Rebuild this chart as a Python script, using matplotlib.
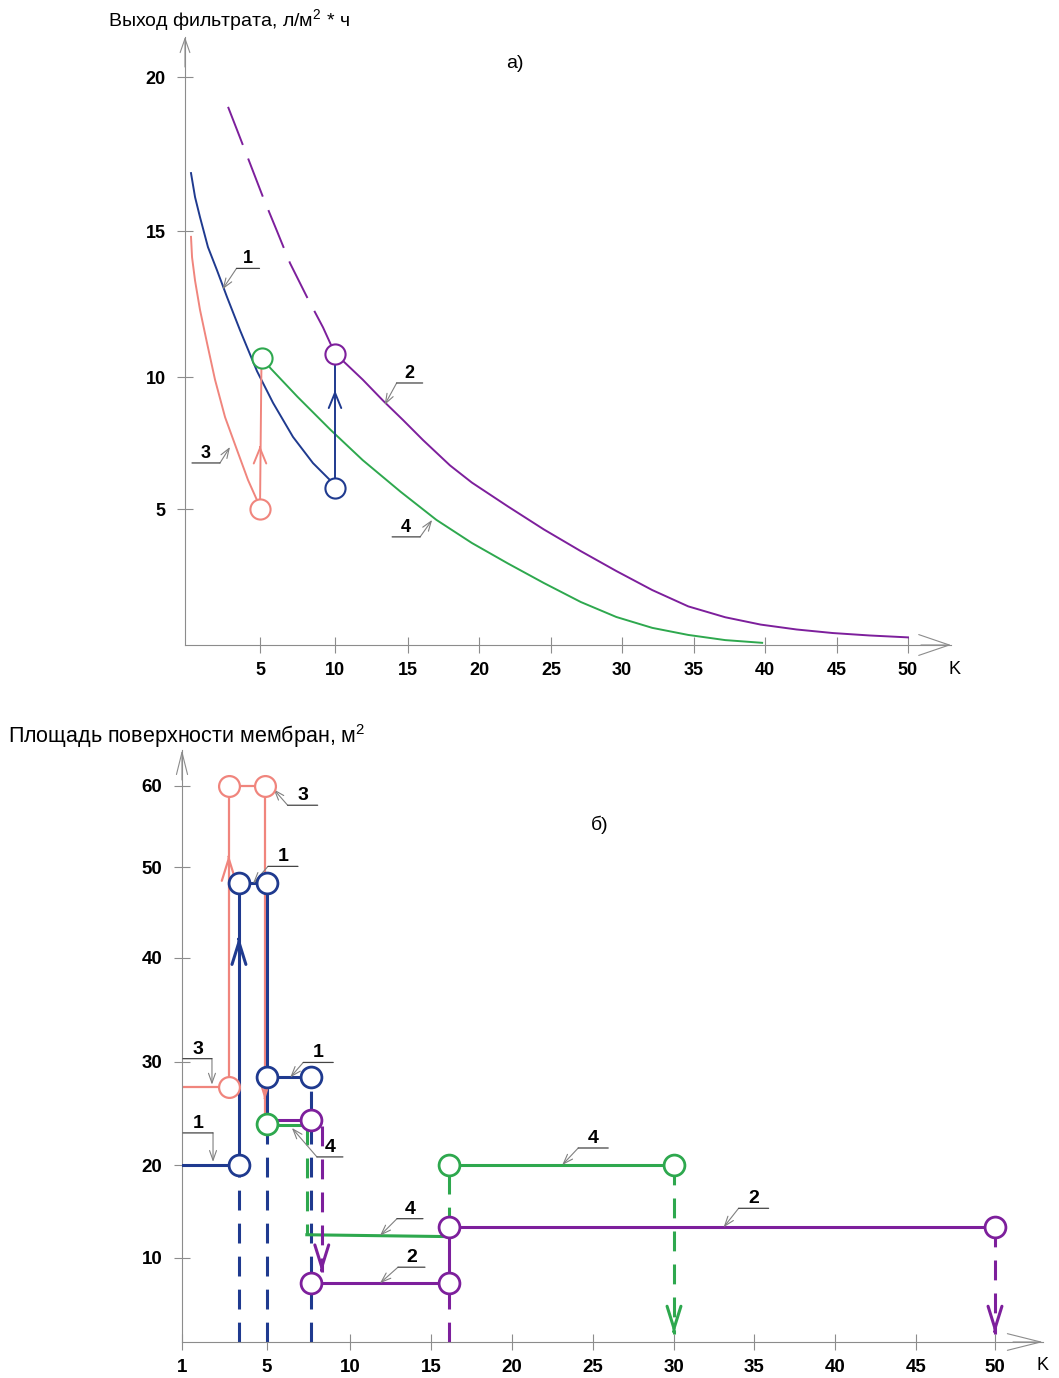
import numpy as np
import matplotlib
matplotlib.use('Agg')
import matplotlib.pyplot as plt
from matplotlib.transforms import offset_copy

plt.rcParams['font.family'] = ['Liberation Sans', 'DejaVu Sans']
plt.rcParams['mathtext.fontset'] = 'custom'
plt.rcParams['mathtext.rm'] = 'Liberation Sans'

W, H, DPI = 1059, 1378, 100

PINK = '#f0857d'
BLUE = '#1f3a8f'
PURPLE = '#7d1f9c'
GREEN = '#2ea84e'
AXIS = '#8c8c8c'
LEAD = '#808080'

# ---------------- panel a): filtrate output vs K ----------------
a_xticks = [5, 10, 15, 20, 25, 30, 35, 40, 45, 50]
a_yticks = [5, 10, 15, 20]

# curve 3 (pink)
k3 = [0.4, 0.47, 0.67, 1.0, 1.47, 2.0, 2.67, 3.47, 4.2, 5.0]
f3 = [14.8, 14.1, 13.3, 12.3, 11.16, 9.9, 8.48, 7.23, 6.1, 5.08]
# curve 1 (blue)
k1 = [0.4, 0.67, 1.0, 1.53, 2.13, 2.8, 3.67, 4.8, 5.87, 7.2, 8.53, 9.87]
f1 = [16.88, 16.1, 15.45, 14.45, 13.66, 12.74, 11.6, 10.2, 9.02, 7.73, 6.74, 5.98]
# curve 2 (purple), dashed part then solid part
k2_dash = [2.87, 3.47, 4.33, 5.2, 6.13, 7.0, 8.13, 9.2, 10.0]
f2_dash = [19.03, 18.28, 17.2, 16.1, 15.0, 13.9, 12.74, 11.7, 10.8]
k2 = [10.0, 10.55, 11.9, 13.3, 14.66, 16.06, 17.96, 19.5, 22.0, 24.5, 27.1, 29.6, 32.1, 34.6,
      37.2, 39.7, 42.2, 44.7, 47.3, 50.0]
f2 = [10.8, 10.55, 9.9, 9.1, 8.37, 7.61, 6.65, 6.0, 5.1, 4.25, 3.45, 2.72, 2.02, 1.42,
      1.02, 0.75, 0.57, 0.44, 0.35, 0.28]
# curve 4 (green)
k4 = [5.1, 5.7, 7.5, 9.7, 11.9, 14.5, 17.0, 19.5, 22.0, 24.5, 27.1, 29.6, 32.1, 34.6, 37.2, 39.8]
f4 = [10.7, 10.3, 9.25, 8.0, 6.85, 5.65, 4.6, 3.75, 3.0, 2.28, 1.58, 1.03, 0.63, 0.37, 0.18, 0.08]
# switching points (circles) and jumps
a_pts = {'pink': (5.0, 5.0), 'blue': (10.0, 5.8), 'purple': (10.0, 10.8), 'green': (5.1, 10.65)}

# ---------------- panel b): membrane area vs K ----------------
b_xticks = [1, 5, 10, 15, 20, 25, 30, 35, 40, 45, 50]
b_yticks = [10, 20, 30, 40, 50, 60]

pink_k = [1, 3.2, 3.2, 4.9, 4.9]
pink_s = [27.6, 27.6, 60, 60, 24.0]
pink_ck = [3.2, 3.2, 4.9]
pink_cs = [27.6, 60, 60]

blue_k = [1, 3.68, 3.68, 5.0, 5.0]
blue_s = [20, 20, 48.2, 48.2, 24.0]
blue_branch_k = [5.0, 7.65]
blue_branch_s = [28.5, 28.5]
blue_ck = [3.68, 3.68, 5.0, 5.0, 7.65]
blue_cs = [20, 48.2, 48.2, 28.5, 28.5]
blue_drop_k = [3.68, 5.0, 7.65]
blue_drop_s = [20, 24.0, 28.5]

purple_segs = [([5.0, 7.65], [24.4, 24.4]),
               ([7.65, 16.1], [7.0, 7.0]),
               ([16.1, 16.1], [7.0, 13.3]),
               ([16.1, 50.0], [13.3, 13.3])]
purple_dash = [([8.3, 8.3], [23.8, 8.3]),
               ([16.1, 16.1], [0.0, 7.0]),
               ([50.0, 50.0], [13.3, 1.0])]
purple_ck = [7.65, 7.65, 16.1, 16.1, 50.0]
purple_cs = [24.4, 7.0, 7.0, 13.3, 13.3]

green_segs = [([5.0, 7.4], [23.9, 23.9]),
              ([7.4, 16.1], [12.5, 12.3]),
              ([16.1, 30.0], [20.0, 20.0])]
green_dash = [([7.4, 7.4], [23.9, 12.5]),
              ([16.1, 16.1], [13.3, 20.0]),
              ([30.0, 30.0], [20.0, 1.0])]
green_ck = [5.0, 16.1, 30.0]
green_cs = [24.0, 20.0, 20.0]

# direction arrows (x, y, +1 up / -1 down, colour)
b_arrows = [(3.2, 51.5, 1, PINK), (4.9, 26.3, -1, PINK), (3.68, 42.3, 1, BLUE),
            (8.3, 8.3, -1, PURPLE), (30.0, 1.0, -1, GREEN), (50.0, 1.0, -1, PURPLE)]


def interp_scale(vals, pos):
    vals = np.asarray(vals, float)
    pos = np.asarray(pos, float)
    return (lambda v: np.interp(v, vals, pos)), (lambda p: np.interp(p, pos, vals))


def setup_axes(fig, box, xgrid, xpos, ygrid, ypos, xticks, yticks, xarrow, yarrow, fs):
    left, top, right, bottom = box
    ax = fig.add_axes([left / W, (H - bottom) / H, (right - left) / W, (bottom - top) / H])
    ax.set_xscale('function', functions=interp_scale(xgrid, xpos))
    ax.set_yscale('function', functions=interp_scale(ygrid, ypos))
    ax.set_xlim(xgrid[0], xgrid[-1])
    ax.set_ylim(ygrid[0], ygrid[-1])
    for s in ['top', 'right']:
        ax.spines[s].set_visible(False)
    for s in ['left', 'bottom']:
        ax.spines[s].set_color(AXIS)
        ax.spines[s].set_linewidth(0.8)
    ax.set_xticks(xticks)
    ax.set_yticks(yticks)
    ax.set_xticklabels([str(t) for t in xticks])
    ax.set_yticklabels([str(t) for t in yticks])
    ax.minorticks_off()
    ax.tick_params(direction='inout', length=12, width=0.8, color=AXIS,
                   labelsize=fs, labelcolor='black')
    ax.tick_params(axis='x', pad=6)
    ax.tick_params(axis='y', pad=8)
    for lab in ax.get_xticklabels() + ax.get_yticklabels():
        lab.set_fontweight('bold')
    # arrow heads at the axis ends
    ax.annotate('', xy=(1, 0), xycoords='axes fraction', xytext=(-30, 0), textcoords='offset pixels',
                arrowprops=dict(arrowstyle='->,head_length=%s,head_width=%s' % xarrow, color=AXIS,
                                lw=0.8, shrinkA=0, shrinkB=0, mutation_scale=10), annotation_clip=False)
    ax.annotate('', xy=(0, 1), xycoords='axes fraction', xytext=(0, -30), textcoords='offset pixels',
                arrowprops=dict(arrowstyle='->,head_length=%s,head_width=%s' % yarrow, color=AXIS,
                                lw=0.8, shrinkA=0, shrinkB=0, mutation_scale=10), annotation_clip=False)
    return ax


def leader(ax, tip, label, dx, dy, w, fs):
    ax.annotate('', xy=tip, xytext=(dx, dy), textcoords='offset pixels',
                arrowprops=dict(arrowstyle='->,head_length=0.7,head_width=0.25', color=LEAD,
                                lw=0.8, shrinkA=0, shrinkB=0, mutation_scale=10))
    tr = offset_copy(ax.transData, fig=ax.figure, x=dx, y=dy, units='dots')
    ax.annotate('', xy=tip, xycoords=tr, xytext=(w, 0), textcoords='offset pixels',
                arrowprops=dict(arrowstyle='-', color='#444444', lw=0.9, shrinkA=0, shrinkB=0))
    ax.annotate(label, xy=tip, xytext=(dx + w / 2, dy + 1), textcoords='offset pixels',
                ha='center', va='bottom', fontsize=fs, fontweight='bold')


def direction_arrow(ax, x, y, d, color, hl, hw, lw):
    ax.annotate('', xy=(x, y), xytext=(0, -2 * d), textcoords='offset pixels',
                arrowprops=dict(arrowstyle='->,head_length=%s,head_width=%s' % (hl, hw), color=color,
                                lw=lw, shrinkA=0, shrinkB=0, mutation_scale=10), zorder=4)


fig = plt.figure(figsize=(W / DPI, H / DPI), dpi=DPI)

# ---------- panel a ----------
ax = setup_axes(fig, (185, 37, 951, 645),
                [0, 5, 10, 15, 20, 25, 30, 35, 40, 45, 50, 53],
                [185, 260, 335, 408, 479, 551, 622, 694, 765, 837, 908, 951],
                [0, 5, 10, 15, 20, 21.3], [0, 136, 268, 414, 568, 608],
                a_xticks, a_yticks, (2.2, 0.75), (1.0, 0.35), 13)

lw_a = 1.4
ax.plot(k3, f3, color=PINK, lw=lw_a)
ax.plot(k1, f1, color=BLUE, lw=lw_a)
ax.plot(k2_dash, f2_dash, color=PURPLE, lw=lw_a, dashes=(21, 7.5))
ax.plot(k2, f2, color=PURPLE, lw=lw_a)
ax.plot(k4, f4, color=GREEN, lw=lw_a)
ax.plot([a_pts['pink'][0], a_pts['green'][0]], [a_pts['pink'][1], a_pts['green'][1]], color=PINK, lw=lw_a)
ax.plot([a_pts['blue'][0], a_pts['purple'][0]], [a_pts['blue'][1], a_pts['purple'][1]], color=BLUE, lw=lw_a)
for name, col in [('pink', PINK), ('blue', BLUE), ('purple', PURPLE), ('green', GREEN)]:
    ax.plot(*a_pts[name], 'o', ms=14.5, mfc='white', mec=col, mew=1.5, zorder=5)
direction_arrow(ax, 5.0, 7.4, 1, PINK, 1.1, 0.45, lw_a)
direction_arrow(ax, 10.0, 9.5, 1, BLUE, 1.1, 0.45, lw_a)

leader(ax, (2.5, 13.0), '1', 14, 21, 23, 13)
leader(ax, (13.4, 8.94), '2', 12, 22, 26, 13)
leader(ax, (3.0, 7.35), '3', -10, -16, -28, 13)
leader(ax, (16.7, 4.6), '4', -12, -17, -28, 13)

fig.text(108 / W, 1 - 21 / H, 'Выход фильтрата, л/м$^2$ * ч', fontsize=14, va='center', ha='left')
fig.text(515 / W, 1 - 64 / H, 'а)', fontsize=14, va='center', ha='center')
fig.text(955 / W, 1 - 670 / H, 'K', fontsize=13, va='center', ha='center')

# ---------- panel b ----------
bx = setup_axes(fig, (182, 750, 1043, 1342),
                [1, 5, 10, 15, 20, 25, 30, 35, 40, 45, 50, 53],
                [182, 267, 350, 431, 512, 593, 674, 754, 835, 916, 995, 1043],
                [0, 10, 20, 30, 40, 50, 60, 64.3], [0, 84, 177, 280, 384, 475, 556, 592],
                b_xticks, b_yticks, (2.4, 0.6), (1.6, 0.4), 13.5)

lw_b = 2.2
dash_b = (6.5, 4.3)
bx.plot(pink_k, pink_s, color=PINK, lw=1.6, zorder=2)
bx.plot(blue_k, blue_s, color=BLUE, lw=lw_b, zorder=3)
bx.plot(blue_branch_k, blue_branch_s, color=BLUE, lw=lw_b, zorder=3)
for xk, ys in zip(blue_drop_k, blue_drop_s):
    bx.plot([xk, xk], [0, ys], color=BLUE, lw=lw_b, dashes=dash_b, zorder=2)
for xs, ys in green_segs:
    bx.plot(xs, ys, color=GREEN, lw=lw_b, zorder=3)
for xs, ys in green_dash:
    bx.plot(xs, ys, color=GREEN, lw=lw_b, dashes=dash_b, zorder=3)
for xs, ys in purple_segs:
    bx.plot(xs, ys, color=PURPLE, lw=lw_b, zorder=3)
for xs, ys in purple_dash:
    bx.plot(xs, ys, color=PURPLE, lw=lw_b, dashes=dash_b, zorder=3)

bx.plot(pink_ck, pink_cs, 'o', ms=15, mfc='white', mec=PINK, mew=1.6, zorder=5)
bx.plot(blue_ck, blue_cs, 'o', ms=15, mfc='white', mec=BLUE, mew=2.0, zorder=5)
bx.plot(green_ck, green_cs, 'o', ms=15, mfc='white', mec=GREEN, mew=2.0, zorder=5)
bx.plot(purple_ck, purple_cs, 'o', ms=15, mfc='white', mec=PURPLE, mew=2.0, zorder=5)
for x, y, d, col in b_arrows:
    direction_arrow(bx, x, y, d, col, 1.6, 0.5, 1.6 if col == PINK else lw_b)

leader(bx, (5.4, 59.6), '3', 14, -16, 30, 14)
leader(bx, (4.34, 48.2), '1', 15, 17, 30, 14)
leader(bx, (2.41, 27.8), '3', 0, 26, -29, 14)
leader(bx, (2.46, 20.3), '1', 0, 29, -30, 14)
leader(bx, (6.4, 28.5), '1', 13, 15, 30, 14)
leader(bx, (6.5, 23.6), '4', 25, -29, 26, 14)
leader(bx, (11.85, 12.4), '4', 17, 17, 26, 14)
leader(bx, (11.85, 7.0), '2', 18, 16, 27, 14)
leader(bx, (23.1, 20.0), '4', 16, 17, 30, 14)
leader(bx, (33.1, 13.3), '2', 15, 19, 30, 14)

fig.text(8 / W, 1 - 736 / H, 'Площадь поверхности мембран, м$^2$', fontsize=15.5, va='center', ha='left')
fig.text(600 / W, 1 - 825 / H, 'б)', fontsize=14, va='center', ha='center')
fig.text(1043 / W, 1 - 1365 / H, 'K', fontsize=13, va='center', ha='center')

fig.savefig('out.png', dpi=DPI)
